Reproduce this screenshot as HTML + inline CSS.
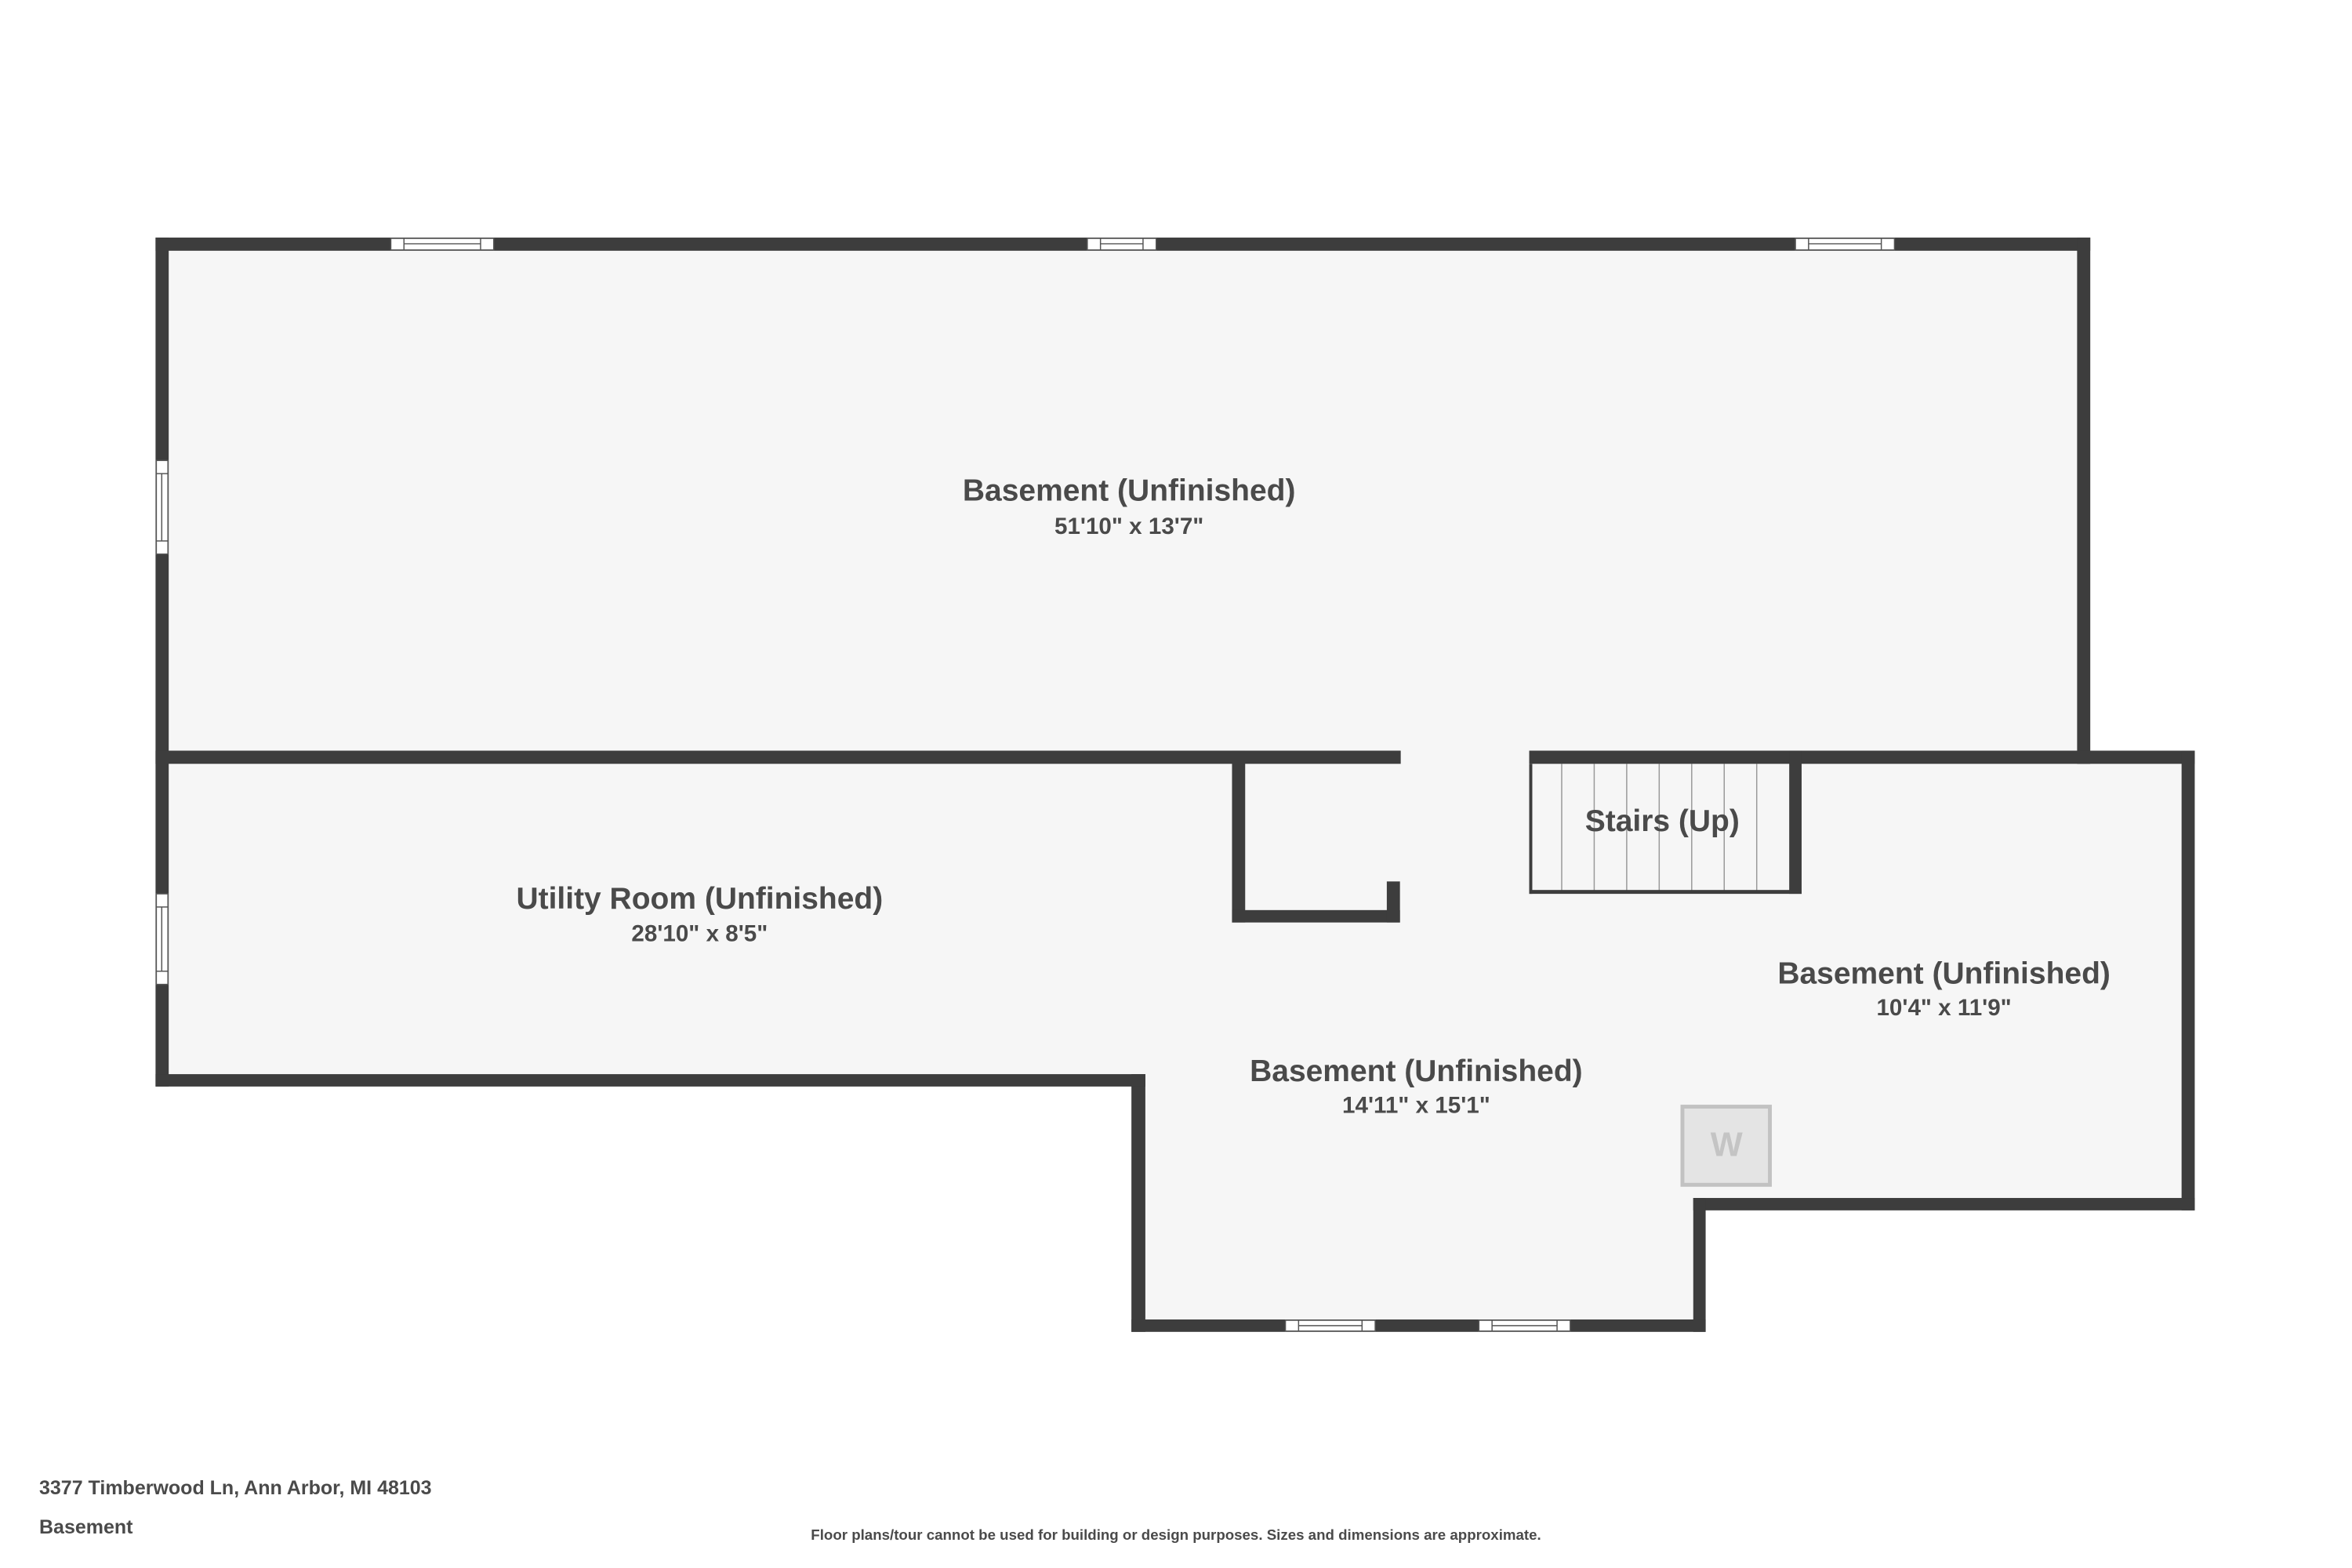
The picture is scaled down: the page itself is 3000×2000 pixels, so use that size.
<!DOCTYPE html>
<html><head><meta charset="utf-8"><style>
html,body{margin:0;padding:0;background:#fff;}
svg{display:block;}
text{font-family:"Liberation Sans",sans-serif;font-weight:bold;fill:#4a4a4a;}
</style></head><body>
<svg width="3000" height="2000" viewBox="0 0 3000 2000" xmlns="http://www.w3.org/2000/svg">
<g transform="scale(0.9871)">
<g fill="#f6f6f6">
<rect x="201" y="307" width="2500" height="680"/>
<rect x="201" y="970" width="1281" height="434"/>
<rect x="1462" y="970" width="1374" height="594"/>
<rect x="1462" y="1548" width="742" height="173"/>
</g>
<g stroke="#999" stroke-width="1.5">
<line x1="2018" y1="987" x2="2018" y2="1152"/><line x1="2060" y1="987" x2="2060" y2="1152"/>
<line x1="2102" y1="987" x2="2102" y2="1152"/><line x1="2144" y1="987" x2="2144" y2="1152"/>
<line x1="2186" y1="987" x2="2186" y2="1152"/><line x1="2228" y1="987" x2="2228" y2="1152"/>
<line x1="2270" y1="987" x2="2270" y2="1152"/>
</g>
<g fill="#3d3d3d">
<rect x="201" y="307" width="2500" height="17"/>
<rect x="201" y="307" width="17" height="1097"/>
<rect x="2684" y="307" width="17" height="680"/>
<rect x="201" y="970" width="1609" height="17"/>
<rect x="1976" y="970" width="860" height="17"/>
<rect x="2819" y="970" width="17" height="594"/>
<rect x="2188" y="1548" width="648" height="16"/>
<rect x="2188" y="1548" width="16" height="173"/>
<rect x="1462" y="1705" width="742" height="16"/>
<rect x="1462" y="1388" width="18" height="333"/>
<rect x="201" y="1388" width="1279" height="16"/>
<rect x="1592" y="970" width="17" height="222"/>
<rect x="1592" y="1176" width="217" height="16"/>
<rect x="1792" y="1139" width="17" height="53"/>
<rect x="2312" y="970" width="16" height="185"/>
<rect x="1976" y="987" width="4" height="168"/>
<rect x="1976" y="1150" width="352" height="5"/>
</g>
<g fill="#fff" stroke="#555" stroke-width="1.5">
<rect x="505" y="308" width="133" height="15"/><line x1="522" y1="308" x2="522" y2="323"/><line x1="621" y1="308" x2="621" y2="323"/><line x1="522" y1="315" x2="621" y2="315"/>
<rect x="1405" y="308" width="89" height="15"/><line x1="1422" y1="308" x2="1422" y2="323"/><line x1="1477" y1="308" x2="1477" y2="323"/><line x1="1422" y1="315" x2="1477" y2="315"/>
<rect x="2320" y="308" width="128" height="15"/><line x1="2337" y1="308" x2="2337" y2="323"/><line x1="2431" y1="308" x2="2431" y2="323"/><line x1="2337" y1="315" x2="2431" y2="315"/>
<rect x="202" y="595" width="15" height="121"/><line x1="202" y1="612" x2="217" y2="612"/><line x1="202" y1="699" x2="217" y2="699"/><line x1="209" y1="612" x2="209" y2="699"/>
<rect x="202" y="1155" width="15" height="117"/><line x1="202" y1="1172" x2="217" y2="1172"/><line x1="202" y1="1255" x2="217" y2="1255"/><line x1="209" y1="1172" x2="209" y2="1255"/>
<rect x="1661" y="1706" width="116" height="14"/><line x1="1678" y1="1706" x2="1678" y2="1720"/><line x1="1760" y1="1706" x2="1760" y2="1720"/><line x1="1678" y1="1713" x2="1760" y2="1713"/>
<rect x="1911" y="1706" width="118" height="14"/><line x1="1928" y1="1706" x2="1928" y2="1720"/><line x1="2012" y1="1706" x2="2012" y2="1720"/><line x1="1928" y1="1713" x2="2012" y2="1713"/>
</g>
<rect x="2174" y="1430" width="113" height="101" fill="#e4e4e4" stroke="#c2c2c2" stroke-width="5"/>
<text x="2231" y="1494" font-size="44" text-anchor="middle" style="fill:#c4c4c4">W</text>
<g text-anchor="middle">
<text x="1459" y="647" font-size="39.5">Basement (Unfinished)</text>
<text x="1459" y="690" font-size="30">51'10" x 13'7"</text>
<text x="904" y="1174" font-size="39.5">Utility Room (Unfinished)</text>
<text x="904" y="1216" font-size="30">28'10" x 8'5"</text>
<text x="2148" y="1074" font-size="39.5">Stairs (Up)</text>
<text x="2512" y="1271" font-size="39.5">Basement (Unfinished)</text>
<text x="2512" y="1312" font-size="30">10'4" x 11'9"</text>
<text x="1830" y="1397" font-size="39.5">Basement (Unfinished)</text>
<text x="1830" y="1438" font-size="30">14'11" x 15'1"</text>
</g>
</g>
<text x="1500" y="1964" font-size="18.7" text-anchor="middle">Floor plans/tour cannot be used for building or design purposes. Sizes and dimensions are approximate.</text>
<text x="50" y="1906" font-size="25">3377 Timberwood Ln, Ann Arbor, MI 48103</text>
<text x="50" y="1956" font-size="25">Basement</text>
</svg>
</body></html>
